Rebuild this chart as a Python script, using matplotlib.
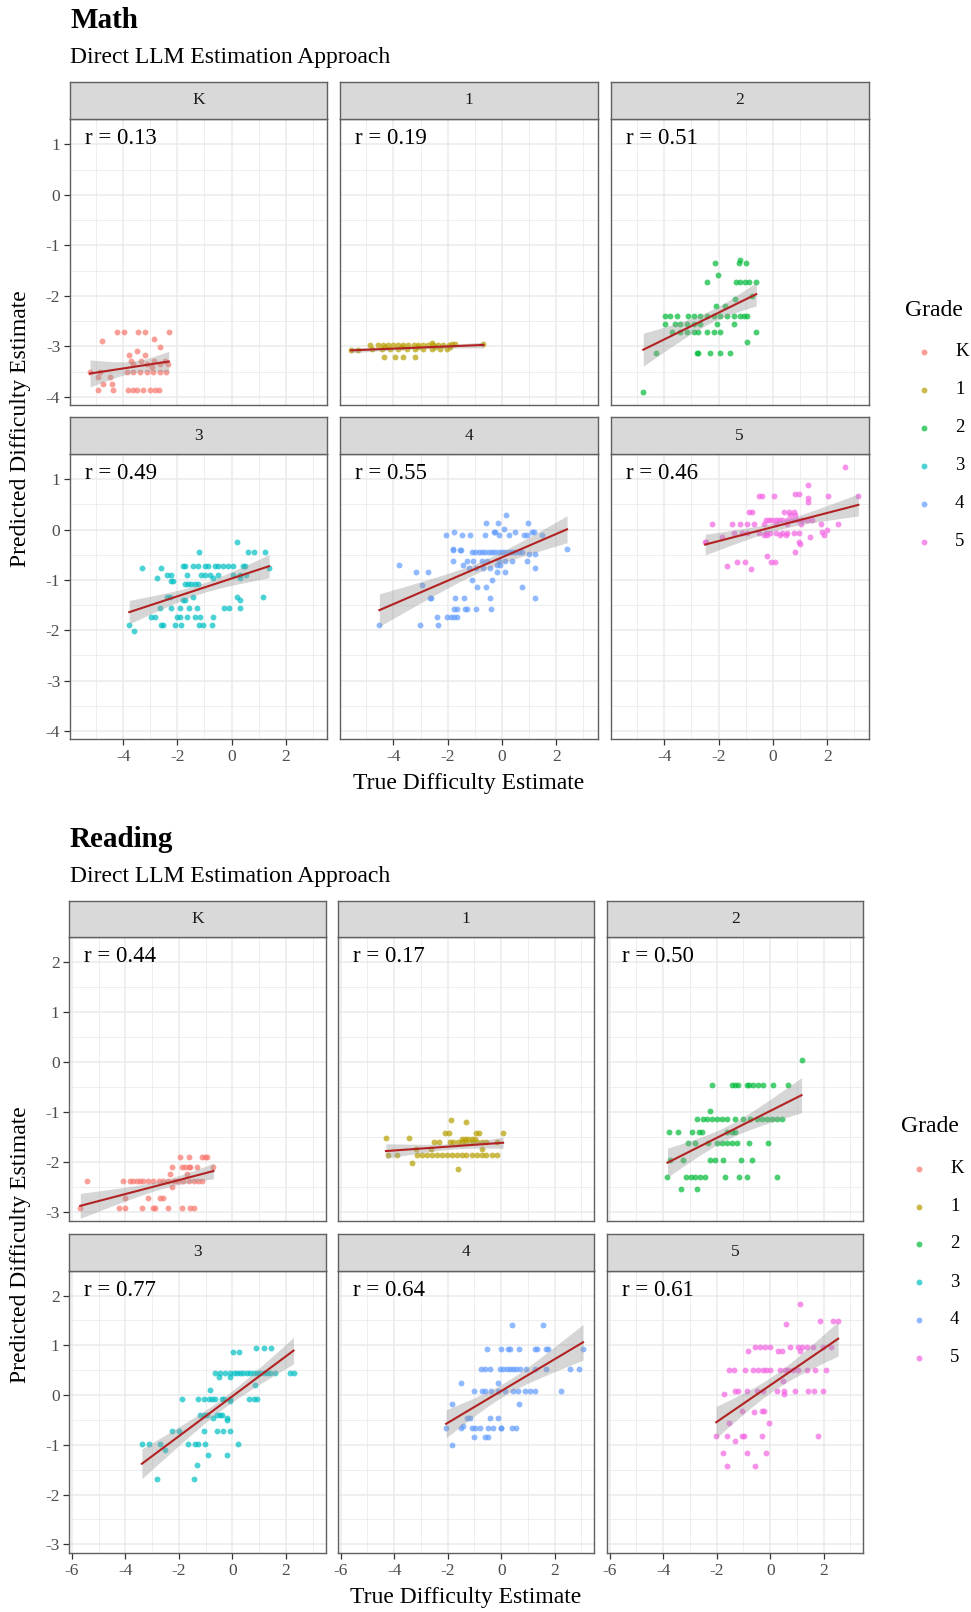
import numpy as np
import matplotlib
matplotlib.use('Agg')
import matplotlib.pyplot as plt

plt.rcParams['font.family'] = ['Liberation Serif', 'DejaVu Serif']
plt.rcParams['axes.unicode_minus'] = False

# ---------------- data ----------------
grades = ['K', '1', '2', '3', '4', '5']
grade_colors = ['#F8766D', '#B79F00', '#00BA38', '#00BFC4', '#619CFF', '#F564E3']

math_r = ['0.13', '0.19', '0.51', '0.49', '0.55', '0.46']
reading_r = ['0.44', '0.17', '0.50', '0.77', '0.64', '0.61']

math_x_ticks = [-4, -2, 0, 2]
reading_x_ticks = [-6, -4, -2, 0, 2]
math_y_ticks = [-4, -3, -2, -1, 0, 1]
reading_y_ticks = [-3, -2, -1, 0, 1, 2]

math_K = [(-4.25,-2.71),(-3.97,-2.71),(-3.47,-2.71),(-3.18,-2.71),(-2.32,-2.71),
          (-4.78,-2.90),(-2.87,-2.85),(-2.63,-3.02),(-3.50,-3.10),
          (-3.80,-3.18),(-3.20,-3.18),
          (-3.73,-3.28),(-3.36,-3.28),(-2.85,-3.28),(-2.44,-3.28),
          (-3.63,-3.34),(-3.14,-3.34),(-2.65,-3.34),(-2.34,-3.34),(-2.95,-3.40),
          (-5.23,-3.51),(-4.87,-3.51),(-3.88,-3.51),(-3.63,-3.51),(-3.39,-3.51),(-3.14,-3.51),
          (-2.90,-3.51),(-2.65,-3.51),(-2.41,-3.51),
          (-4.93,-3.61),(-4.50,-3.61),(-4.74,-3.74),(-4.43,-3.74),
          (-4.93,-3.86),(-4.38,-3.86),(-3.82,-3.86),(-3.63,-3.86),(-3.51,-3.86),(-3.27,-3.86),
          (-3.02,-3.86),(-2.84,-3.86),(-2.69,-3.86)]

math_1 = [(-5.57,-3.08),(-5.30,-3.08),(-4.87,-2.98),
          (-4.56,-2.98),(-4.38,-2.98),(-4.19,-2.98),(-4.00,-2.98),(-3.82,-2.98),(-3.63,-2.98),
          (-3.45,-2.98),(-3.26,-2.98),(-3.08,-2.98),(-2.90,-2.98),(-2.71,-2.98),(-2.53,-2.98),
          (-2.34,-2.98),(-2.16,-2.98),(-1.97,-2.98),(-1.85,-2.96),(-1.72,-2.96),
          (-4.80,-3.06),(-4.43,-3.06),(-4.13,-3.06),(-3.82,-3.06),(-3.51,-3.06),(-3.20,-3.06),
          (-2.90,-3.06),(-2.59,-3.06),(-2.28,-3.06),(-2.03,-3.06),
          (-4.31,-3.02),(-3.69,-3.02),(-3.08,-3.02),(-2.46,-3.02),(-1.91,-3.02),
          (-2.59,-2.94),(-0.68,-2.95),
          (-4.34,-3.21),(-3.94,-3.21),(-3.63,-3.21),(-3.20,-3.21)]

math_2 = [(-2.12,-1.34),(-1.26,-1.34),(-1.20,-1.29),(-0.98,-1.34),
          (-2.03,-1.58),
          (-2.43,-1.72),(-1.34,-1.72),(-1.20,-1.72),(-1.01,-1.72),(-0.89,-1.72),(-0.61,-1.72),
          (-0.77,-2.01),(-1.38,-2.07),(-2.09,-2.21),(-1.75,-2.21),
          (-3.97,-2.39),(-3.78,-2.39),(-3.54,-2.39),(-3.11,-2.39),(-2.92,-2.39),(-2.68,-2.39),
          (-2.43,-2.39),(-2.18,-2.39),(-1.94,-2.39),(-1.69,-2.39),(-1.44,-2.39),(-1.20,-2.39),
          (-1.07,-2.39),(-0.95,-2.39),
          (-3.97,-2.56),(-3.60,-2.56),(-3.41,-2.56),(-3.17,-2.56),(-2.92,-2.56),(-2.68,-2.56),
          (-2.06,-2.56),(-1.42,-2.56),
          (-3.72,-2.71),(-3.41,-2.71),(-3.17,-2.71),(-2.92,-2.71),(-2.74,-2.71),(-2.43,-2.71),
          (-2.18,-2.71),(-1.96,-2.71),(-0.61,-2.71),
          (-0.95,-2.92),
          (-4.31,-3.13),(-2.80,-3.13),(-2.74,-3.13),(-2.30,-3.13),(-1.94,-3.13),(-1.59,-3.13),
          (-4.77,-3.90)]

math_3 = [(0.22,-0.24),
          (-1.20,-0.44),(0.61,-0.44),(0.84,-0.44),(1.25,-0.44),
          (-1.79,-0.72),(-1.73,-0.72),(-1.42,-0.72),(-1.23,-0.72),(-0.99,-0.72),(-0.86,-0.72),
          (-0.62,-0.72),(-0.49,-0.72),(-0.31,-0.72),(-0.12,-0.72),(0.06,-0.72),(0.43,-0.72),(0.49,-0.72),
          (-3.32,-0.76),(-2.59,-0.76),(1.39,-0.76),
          (-2.40,-0.90),(-2.22,-0.90),(-1.66,-0.90),(-1.11,-0.90),(-0.99,-0.90),(-0.80,-0.90),
          (-0.49,-0.90),(0.06,-0.90),(0.31,-0.90),(0.55,-0.90),
          (-2.77,-0.97),(-0.68,-0.97),(0.31,-0.97),
          (-2.22,-1.03),(-2.16,-1.03),
          (-1.73,-1.08),(-1.60,-1.08),(-1.48,-1.08),(-1.36,-1.08),(-1.23,-1.08),
          (-2.40,-1.33),(-2.28,-1.33),(-1.41,-1.33),(0.22,-1.33),(1.16,-1.33),
          (-1.79,-1.40),(-1.73,-1.40),(0.33,-1.40),
          (-2.65,-1.56),(-2.22,-1.56),(-1.91,-1.56),(-1.57,-1.56),(-1.27,-1.56),(-0.27,-1.56),
          (-0.09,-1.56),(0.33,-1.56),
          (-2.96,-1.73),(-2.84,-1.73),(-2.03,-1.73),(-1.91,-1.73),(-1.66,-1.73),(-1.36,-1.73),
          (-1.17,-1.73),(-0.68,-1.73),
          (-3.78,-1.89),(-2.59,-1.89),(-2.53,-1.89),(-2.10,-1.89),(-1.85,-1.89),(-1.20,-1.89),
          (-1.05,-1.89),(-0.72,-1.89),
          (-3.61,-2.01)]

math_4 = [(0.16,0.28),
          (-0.58,0.12),(-0.15,0.12),(0.96,0.12),(0.06,0.02),
          (-1.76,-0.05),(-0.31,-0.05),(-0.25,-0.05),(0.49,-0.05),(1.11,-0.05),(1.20,-0.05),
          (-2.06,-0.11),(-1.48,-0.11),(-1.17,-0.11),(-0.62,-0.11),(-0.12,-0.11),(0.25,-0.11),
          (0.80,-0.11),(0.92,-0.11),(1.48,-0.11),
          (-1.79,-0.38),(2.40,-0.38),(-1.79,-0.41),(-1.55,-0.41),(-1.50,-0.41),
          (-1.11,-0.45),(-0.99,-0.45),(-0.86,-0.45),(-0.74,-0.45),(-0.62,-0.45),(-0.49,-0.45),
          (-0.37,-0.45),(-0.25,-0.45),(-0.12,-0.45),(0.00,-0.45),(0.12,-0.45),(0.25,-0.45),
          (0.37,-0.45),(0.49,-0.45),(0.62,-0.45),(0.74,-0.45),
          (0.99,-0.49),(1.21,-0.49),
          (-1.79,-0.62),(-1.28,-0.62),(-1.05,-0.62),(-0.74,-0.62),(-0.55,-0.62),(-0.12,-0.62),
          (0.12,-0.62),(0.37,-0.62),(0.92,-0.62),
          (-3.78,-0.71),(-1.42,-0.71),(-0.18,-0.71),(-0.06,-0.71),
          (-1.20,-0.77),(-0.95,-0.77),(-0.70,-0.77),(-0.45,-0.77),(1.23,-0.77),
          (-3.18,-0.85),(-2.73,-0.85),(-0.18,-0.85),(0.12,-0.85),
          (-1.09,-1.00),(-0.37,-1.00),(-2.96,-1.10),
          (-0.92,-1.14),(-0.58,-1.14),(0.74,-1.14),
          (-2.67,-1.36),(-2.61,-1.36),(-1.73,-1.36),(-1.40,-1.36),(-0.43,-1.36),(1.21,-1.36),
          (-1.76,-1.58),(-1.66,-1.58),(-1.38,-1.58),(-1.30,-1.58),(-0.95,-1.58),(-0.40,-1.58),
          (-2.38,-1.74),(-2.01,-1.74),(-1.88,-1.74),(-1.76,-1.74),(-1.67,-1.74),
          (-4.52,-1.89),(-3.02,-1.89),(-2.34,-1.89)]

math_5 = [(2.66,1.24),(1.29,0.89),(0.83,0.70),(0.96,0.70),
          (-0.52,0.66),(-0.40,0.66),(0.04,0.66),(2.04,0.66),(3.15,0.66),
          (1.29,0.63),(1.29,0.55),
          (-0.89,0.35),(-0.77,0.35),(0.40,0.35),(0.59,0.35),(0.77,0.35),
          (0.65,0.28),(0.83,0.28),
          (-0.27,0.18),(-0.15,0.18),(-0.02,0.18),(0.10,0.18),(0.22,0.18),(0.34,0.18),
          (0.53,0.18),(0.71,0.18),(0.90,0.18),(1.08,0.18),(1.27,0.18),(1.45,0.18),
          (-2.24,0.10),(-1.50,0.10),(-1.20,0.10),(-0.95,0.10),(-0.70,0.10),(-0.33,0.10),
          (0.10,0.10),(0.53,0.10),(1.02,0.10),(1.76,0.10),(2.41,0.10),
          (2.00,-0.01),(1.82,-0.04),
          (-1.44,-0.07),(-1.14,-0.07),(-0.95,-0.07),(-0.52,-0.07),(-0.27,-0.07),(-0.09,-0.07),
          (0.10,-0.07),(0.34,-0.07),(0.53,-0.07),(0.77,-0.07),(0.96,-0.07),
          (-0.33,-0.11),(-0.21,-0.11),(0.28,-0.11),(0.47,-0.11),(1.88,-0.11),
          (-1.87,-0.15),(1.36,-0.15),
          (-2.49,-0.25),(-2.45,-0.25),(0.96,-0.25),(1.00,-0.28),
          (0.80,-0.44),(-0.21,-0.53),(-0.05,-0.64),(0.07,-0.64),(-1.32,-0.65),(-1.04,-0.65),
          (-1.67,-0.72),(-0.79,-0.79)]

reading_K = [(-1.95,-1.91),(-1.64,-1.91),(-1.14,-1.91),(-1.02,-1.91),(-0.96,-1.91),
             (-2.26,-2.10),(-1.89,-2.10),(-1.76,-2.10),(-1.64,-2.10),(-1.58,-2.10),(-1.33,-2.10),
             (-0.71,-2.10),
             (-2.32,-2.25),(-1.70,-2.25),
             (-5.43,-2.39),(-4.07,-2.39),(-3.82,-2.39),(-3.70,-2.39),(-3.57,-2.39),(-3.45,-2.39),
             (-3.33,-2.39),(-3.14,-2.39),(-2.95,-2.39),(-2.76,-2.39),(-2.58,-2.39),(-2.39,-2.39),
             (-2.20,-2.39),(-2.02,-2.39),(-1.83,-2.39),(-1.64,-2.39),(-1.45,-2.39),(-1.27,-2.39),
             (-1.14,-2.39),
             (-2.26,-2.50),
             (-4.01,-2.73),(-3.14,-2.73),(-2.70,-2.73),(-2.58,-2.73),
             (-5.68,-2.93),(-4.25,-2.93),(-4.01,-2.93),(-3.38,-2.93),(-2.95,-2.93),(-2.88,-2.93),
             (-2.39,-2.93),(-1.89,-2.93),(-1.58,-2.93),(-1.45,-2.93)]

reading_1 = [(-1.88,-1.17),(-1.32,-1.20),
             (-2.10,-1.43),(-1.95,-1.43),(-0.96,-1.43),(-0.83,-1.43),(0.07,-1.43),
             (-4.31,-1.53),(-3.44,-1.53),
             (-1.48,-1.54),(-1.35,-1.54),(-1.23,-1.54),(-1.11,-1.54),(-0.98,-1.54),
             (-2.50,-1.61),(-2.33,-1.61),(-1.92,-1.61),(-1.80,-1.61),(-1.63,-1.61),(-1.48,-1.61),
             (-1.30,-1.61),(-1.11,-1.61),(-0.92,-1.61),(-0.73,-1.61),(-0.55,-1.61),(-0.15,-1.61),
             (-3.18,-1.74),(-2.62,-1.74),(-0.73,-1.74),
             (-4.22,-1.86),(-3.90,-1.86),(-3.16,-1.86),(-2.97,-1.86),(-2.79,-1.86),(-2.60,-1.86),
             (-2.41,-1.86),(-2.23,-1.86),(-2.04,-1.86),(-1.85,-1.86),(-1.67,-1.86),(-1.48,-1.86),
             (-1.30,-1.86),(-1.11,-1.86),(-0.92,-1.86),(-0.73,-1.86),(-0.55,-1.86),(-0.36,-1.86),
             (-0.17,-1.86),
             (-3.32,-2.03),(-1.63,-2.14)]

reading_2 = [(1.17,0.04),
             (-2.19,-0.46),(-1.44,-0.46),(-1.32,-0.46),(-1.19,-0.46),(-0.88,-0.46),(-0.78,-0.46),
             (-0.63,-0.46),(-0.45,-0.46),(-0.26,-0.46),(0.11,-0.46),(0.67,-0.46),
             (-2.25,-0.99),
             (-2.75,-1.14),(-2.52,-1.14),(-2.38,-1.14),(-2.19,-1.14),(-2.00,-1.14),(-1.81,-1.14),
             (-1.63,-1.14),(-1.32,-1.14),(-1.00,-1.14),(-0.76,-1.14),(-0.51,-1.14),(-0.32,-1.14),
             (-0.13,-1.14),(0.05,-1.14),(0.24,-1.14),(0.43,-1.14),
             (-3.77,-1.40),(-3.43,-1.40),(-2.93,-1.40),(-2.68,-1.40),(-2.56,-1.40),(-1.63,-1.40),
             (-1.44,-1.40),(-1.32,-1.40),
             (-3.06,-1.62),(-2.81,-1.62),(-2.31,-1.62),(-2.00,-1.62),(-1.81,-1.62),(-1.63,-1.62),
             (-1.44,-1.62),(-1.26,-1.62),(-0.78,-1.62),(-0.07,-1.62),
             (-3.74,-1.97),(-3.27,-1.97),(-2.25,-1.97),(-2.06,-1.97),(-1.75,-1.97),(-1.10,-1.97),
             (-0.69,-1.97),
             (-3.84,-2.31),(-3.14,-2.31),(-2.97,-2.31),(-2.81,-2.31),(-2.62,-2.31),(-2.44,-2.31),
             (-1.69,-2.31),(-1.15,-2.31),(-0.88,-2.31),(0.26,-2.31),
             (-3.33,-2.55),(-2.72,-2.55)]

reading_3 = [(0.88,0.94),(1.16,0.94),(1.44,0.94),(0.01,0.86),(0.26,0.86),
             (-0.65,0.44),(-0.46,0.44),(-0.28,0.44),(-0.09,0.44),(0.04,0.44),(0.16,0.44),
             (0.29,0.44),(0.41,0.44),(0.54,0.44),(0.66,0.44),(0.79,0.44),(0.91,0.44),
             (1.03,0.44),(1.16,0.44),(1.28,0.44),(1.40,0.44),(1.59,0.44),(2.13,0.44),(2.28,0.44),
             (-0.52,0.37),(-0.09,0.37),(0.85,0.20),(-0.83,0.11),
             (-1.89,-0.07),(-1.27,-0.07),(-1.08,-0.07),(-0.89,-0.07),(-0.77,-0.07),(-0.65,-0.07),
             (-0.40,-0.07),(-0.31,-0.07),(-0.09,-0.07),(0.60,-0.07),(0.79,-0.07),(0.91,-0.07),
             (-0.09,-0.12),
             (-1.20,-0.40),(-1.08,-0.40),(-0.95,-0.40),(-0.58,-0.40),(-0.46,-0.40),(-0.40,-0.40),
             (-0.71,-0.46),(-0.21,-0.46),(-0.21,-0.51),
             (-2.26,-0.73),(-2.01,-0.73),(-1.05,-0.73),(-0.58,-0.73),(-0.36,-0.73),(-0.09,-0.73),
             (-3.38,-0.99),(-3.10,-0.99),(-2.72,-0.99),(-1.67,-0.99),(-1.39,-0.99),(-1.27,-0.99),
             (-1.02,-0.99),(0.19,-0.99),
             (-2.51,-1.11),(-0.92,-1.20),(-0.21,-1.20),(-1.33,-1.40),
             (-2.82,-1.68),(-1.45,-1.68)]

reading_4 = [(0.42,1.40),(1.57,1.40),
             (-0.52,0.92),(-0.01,0.92),(0.26,0.92),(0.32,0.92),(0.67,0.92),(1.26,0.92),
             (1.32,0.92),(1.69,0.92),(1.75,0.92),(3.06,0.92),
             (-0.77,0.52),(-0.61,0.52),(-0.42,0.52),(-0.05,0.52),(0.08,0.52),(0.20,0.52),
             (0.32,0.52),(0.45,0.52),(0.57,0.52),(0.70,0.52),(0.94,0.52),(1.26,0.52),
             (1.69,0.52),(2.56,0.52),(2.91,0.52),
             (-1.51,0.25),(-0.11,0.25),
             (-1.00,0.09),(-0.71,0.09),(-0.59,0.09),(-0.40,0.09),(-0.11,0.09),(0.14,0.09),
             (0.45,0.09),(0.64,0.09),(0.89,0.09),(1.07,0.09),(1.26,0.09),(2.25,0.09),
             (-1.85,-0.18),(0.67,-0.18),
             (-1.29,-0.46),(-1.17,-0.46),(-0.42,-0.46),(-0.11,-0.46),
             (-1.42,-0.62),
             (-2.06,-0.66),(-1.51,-0.66),(-1.10,-0.66),(-0.98,-0.66),(-0.79,-0.66),(-0.48,-0.66),
             (-0.30,-0.66),(-0.02,-0.66),(0.01,-0.66),(0.39,-0.66),(0.57,-0.66),
             (-1.02,-0.85),(-0.61,-0.85),(-0.48,-0.85),
             (-1.83,-1.00)]

reading_5 = [(1.11,1.83),(1.85,1.48),(2.33,1.48),(2.54,1.48),(0.59,1.42),
             (-0.57,0.97),(-0.39,0.97),(-0.20,0.97),(-0.01,0.97),(0.74,0.97),(1.04,0.97),
             (1.17,0.97),(1.36,0.97),(1.61,0.97),(1.98,0.97),(2.29,0.97),
             (-0.82,0.89),(0.30,0.89),(0.43,0.89),(1.11,0.89),
             (-1.53,0.51),(-1.35,0.51),(-0.94,0.51),(-0.63,0.51),(-0.45,0.51),(-0.26,0.51),
             (-0.14,0.51),(-0.01,0.51),(0.36,0.51),(0.55,0.51),(0.67,0.51),(0.86,0.51),
             (1.04,0.51),(1.36,0.51),(1.67,0.51),(2.08,0.51),
             (0.46,0.28),
             (-1.32,0.09),(-1.19,0.09),(-0.88,0.09),(-0.51,0.09),(-0.26,0.09),(0.27,0.09),
             (0.51,0.09),(0.93,0.09),(1.42,0.09),(1.64,0.09),(1.96,0.09),
             (-1.72,0.03),(0.52,0.03),
             (-1.07,-0.31),(-0.32,-0.31),(-0.23,-0.31),(-0.61,-0.35),
             (-1.53,-0.57),(-0.03,-0.57),
             (-2.02,-0.82),(-1.63,-0.82),(-1.07,-0.82),(-0.98,-0.82),(-0.32,-0.82),(1.79,-0.82),
             (-1.32,-0.92),
             (-1.78,-1.16),(-0.86,-1.16),(-0.17,-1.16),
             (-1.63,-1.42),(-0.56,-1.42)]

math_data = [math_K, math_1, math_2, math_3, math_4, math_5]
reading_data = [reading_K, reading_1, reading_2, reading_3, reading_4, reading_5]

# ---------------- layout (pixels) ----------------
W, H = 971, 1612
fig = plt.figure(figsize=(W / 100, H / 100), dpi=100)

sections = [
    dict(name='Math', data=math_data, r=math_r, xticks=math_x_ticks, yticks=math_y_ticks,
         ylim=(-4.16, 1.49), xlim=(-5.97, 3.53),
         cols=[(70, 327), (340, 597.7), (610.7, 868.7)],
         rows=[(82, 119, 405), (417, 454, 739)],
         title_y=28.3, sub_y=63.3, xlab_y=783, ylab_y=429, xlab_x=469,
         leg_title=(905, 310), leg_key_x=924, leg_lab_x=955,
         leg_y=[352, 390, 428, 466, 504, 542]),
    dict(name='Reading', data=reading_data, r=reading_r, xticks=reading_x_ticks,
         yticks=reading_y_ticks,
         ylim=(-3.18, 2.05), xlim=(-6.09, 3.48),
         cols=[(69.3, 325.7), (338.3, 594.3), (607.3, 863.3)],
         rows=[(900.7, 937.3, 1220.7), (1234, 1270.7, 1553.3)],
         title_y=847, sub_y=882, xlab_y=1598, ylab_y=1245, xlab_x=466,
         leg_title=(900.7, 1127), leg_key_x=919, leg_lab_x=950,
         leg_y=[1168.7, 1206.7, 1244, 1282.3, 1320, 1357.7]),
]

BORDER = '#606060'
GRID = '#EBEBEB'
PT_SIZE = 18
PT_ALPHA = 0.7


def add_ax(l, t, r, b):
    return fig.add_axes([l / W, 1 - b / H, (r - l) / W, (b - t) / H])


overlay = fig.add_axes([0, 0, 1, 1])
overlay.set_xlim(0, W)
overlay.set_ylim(H, 0)
overlay.axis('off')
overlay.set_zorder(10)

for sec in sections:
    for i, (pts, rval) in enumerate(zip(sec['data'], sec['r'])):
        row, col = divmod(i, 3)
        l, r = sec['cols'][col]
        st, pt, pb = sec['rows'][row]
        ax = add_ax(l, pt, r, pb)
        sax = add_ax(l, st, r, pt)

        # strip
        sax.set_facecolor('#D9D9D9')
        sax.set_xticks([]); sax.set_yticks([])
        for s in sax.spines.values():
            s.set_color(BORDER); s.set_linewidth(1.0)
        sax.text(0.5, 0.5, grades[i], transform=sax.transAxes, ha='center', va='center',
                 fontsize=12.5, color='#1A1A1A')

        arr = np.array(pts, dtype=float)
        x, y = arr[:, 0], arr[:, 1]
        ax.scatter(x, y, s=PT_SIZE, color=grade_colors[i], alpha=PT_ALPHA,
                   linewidths=0, zorder=3)

        # linear fit with 95% band
        n = len(x)
        b1, b0 = np.polyfit(x, y, 1)
        xs = np.linspace(x.min(), x.max(), 100)
        yh = b0 + b1 * xs
        resid = y - (b0 + b1 * x)
        s_err = np.sqrt(np.sum(resid ** 2) / (n - 2))
        se = s_err * np.sqrt(1 / n + (xs - x.mean()) ** 2 / np.sum((x - x.mean()) ** 2))
        tq = 1.98
        ax.fill_between(xs, yh - tq * se, yh + tq * se, color='#999999', alpha=0.4,
                        linewidth=0, zorder=4)
        ax.plot(xs, yh, color='#B22222', linewidth=1.5, zorder=5)

        ax.annotate(f'r = {rval}', xy=(0, 1), xycoords='axes fraction',
                    xytext=(10.8, -14.0), textcoords='offset points',
                    ha='left', va='center', fontsize=16.5, color='black')

        ax.set_xlim(*sec['xlim'])
        ax.set_ylim(*sec['ylim'])
        ax.set_xticks(sec['xticks'])
        ax.set_xticks([-5, -3, -1, 1, 3], minor=True)
        ax.set_yticks(sec['yticks'])
        ax.set_yticks([v + 0.5 for v in sec['yticks']], minor=True)
        ax.grid(True, which='major', color=GRID, linewidth=1.1, zorder=0)
        ax.grid(True, which='minor', color=GRID, linewidth=0.6, zorder=0)
        ax.set_axisbelow(True)
        for s in ax.spines.values():
            s.set_color(BORDER); s.set_linewidth(1.0)
        ax.tick_params(which='minor', length=0)
        ax.tick_params(which='major', length=4, width=0.9, color='#333333',
                       labelsize=12.5, labelcolor='#4D4D4D', pad=3)
        if col != 0:
            ax.tick_params(axis='y', which='major', length=0, labelleft=False)
        if row != 1:
            ax.tick_params(axis='x', which='major', length=0, labelbottom=False)

    # titles
    fig.text(70 / W, 1 - sec['title_y'] / H, sec['name'], fontsize=21, fontweight='bold',
             ha='left', va='baseline')
    fig.text(70 / W, 1 - sec['sub_y'] / H, 'Direct LLM Estimation Approach', fontsize=17,
             ha='left', va='baseline')
    fig.text(sec['xlab_x'] / W, 1 - sec['xlab_y'] / H, 'True Difficulty Estimate',
             fontsize=17, ha='center', va='center')
    fig.text(21 / W, 1 - sec['ylab_y'] / H, 'Predicted Difficulty Estimate',
             fontsize=17, ha='center', va='center', rotation=90)

    # legend
    tx, ty = sec['leg_title']
    overlay.text(tx, ty, 'Grade', fontsize=17, ha='left', va='center')
    for g, c, ly in zip(grades, grade_colors, sec['leg_y']):
        overlay.scatter([sec['leg_key_x']], [ly], s=PT_SIZE, color=c, alpha=PT_ALPHA,
                        linewidths=0)
        overlay.text(sec['leg_lab_x'], ly, g, fontsize=13.5, ha='left', va='center')

fig.savefig('out.png', dpi=100, facecolor='white')
